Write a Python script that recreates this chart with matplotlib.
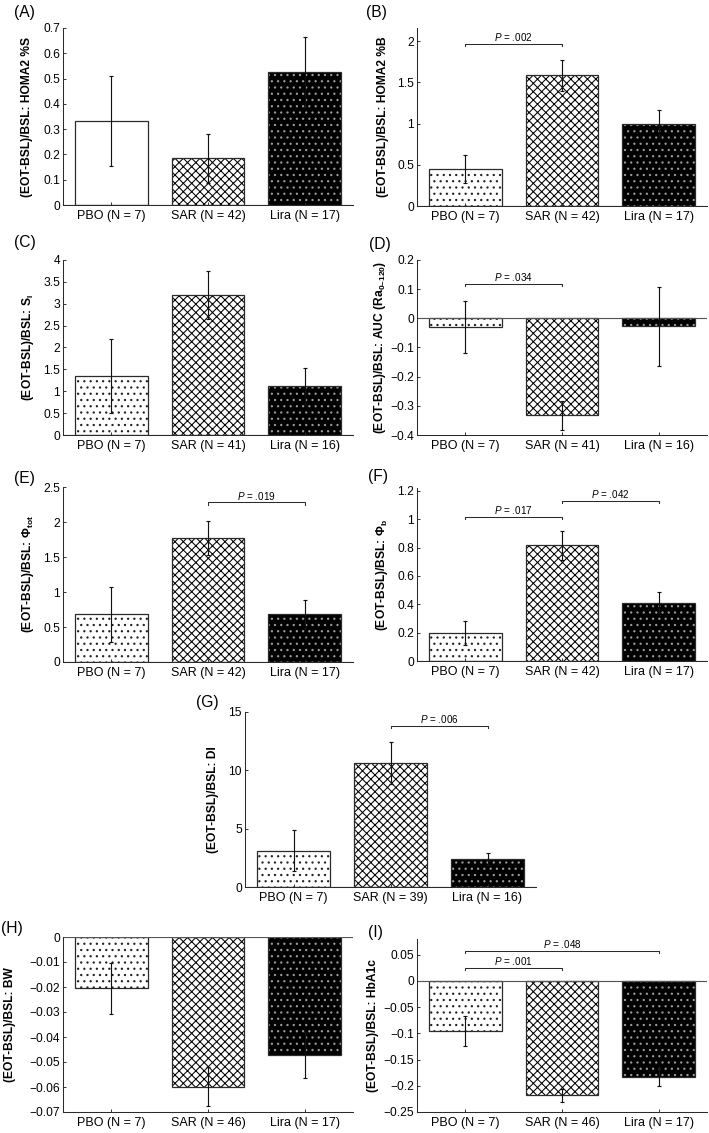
import numpy as np
import matplotlib
matplotlib.use("Agg")
import matplotlib.pyplot as plt

plt.rcParams["font.family"] = ["Liberation Sans", "DejaVu Sans"]
plt.rcParams["mathtext.fontset"] = "custom"
plt.rcParams["mathtext.rm"] = "Liberation Sans"
plt.rcParams["mathtext.it"] = "Liberation Sans:italic"
plt.rcParams["mathtext.bf"] = "Liberation Sans:bold"
plt.rcParams["hatch.linewidth"] = 1.0

DPI = 75
W, H = 709, 1133

GROUPS = ["PBO", "SAR", "Lira"]

# values: mean change and SEM per group
n_A = [7, 42, 17]
mean_A = [0.333, 0.185, 0.527]
err_A = [0.177, 0.097, 0.138]

n_B = [7, 42, 17]
mean_B = [0.45, 1.585, 1.0]
err_B = [0.165, 0.19, 0.16]

n_C = [7, 41, 16]
mean_C = [1.35, 3.2, 1.12]
err_C = [0.85, 0.55, 0.42]

n_D = [7, 41, 16]
mean_D = [-0.03, -0.332, -0.027]
err_D = [0.088, 0.05, 0.135]

n_E = [7, 42, 17]
mean_E = [0.68, 1.77, 0.69]
err_E = [0.39, 0.24, 0.2]

n_F = [7, 42, 17]
mean_F = [0.2, 0.815, 0.41]
err_F = [0.085, 0.1, 0.075]

n_G = [7, 39, 16]
mean_G = [3.1, 10.6, 2.4]
err_G = [1.75, 1.8, 0.55]

n_H = [7, 46, 17]
mean_H = [-0.0205, -0.0598, -0.047]
err_H = [0.0101, 0.0078, 0.0092]

n_I = [7, 46, 17]
mean_I = [-0.096, -0.218, -0.184]
err_I = [0.029, 0.012, 0.017]

# significance brackets: (group i, group j, height, p text)
sig_B = [(0, 1, 1.97, ".002")]
sig_D = [(0, 1, 0.118, ".034")]
sig_E = [(1, 2, 2.28, ".019")]
sig_F = [(0, 1, 1.016, ".017"), (1, 2, 1.13, ".042")]
sig_G = [(1, 2, 13.8, ".006")]
sig_I = [(0, 1, 0.025, ".001"), (0, 2, 0.0565, ".048")]

LINE = "#2b2b2b"


def fmt(v):
  if abs(v) < 1e-9:
    return "0"
  s = "%g" % round(v, 4)
  return s.replace("-", "\u2212")


def draw_panel(rect, letter, letter_xy, means, errs, ns, ylim, yticks, ylabel,
               label_off, sigs=(), plain_pbo=False):
  l, t, r, b = rect
  ax = fig.add_axes([l / W, 1 - b / H, (r - l) / W, (b - t) / H])
  x = np.arange(1, 4)

  bars = ax.bar(x, means, width=0.75, color=["white", "white", "black"],
                linewidth=0, zorder=1)
  styles = [("" if plain_pbo else "..", "#222222"), ("xxx", "black"), ("..", "#9a9a9a")]
  for p, (h, hc) in zip(bars, styles):
    p.set_hatch(h)
    p.set_edgecolor(hc)
    p.set_linewidth(0)
  ax.bar(x, means, width=0.75, fill=False, edgecolor=LINE, linewidth=1.2, zorder=2)

  ax.axhline(0, color="#555555", lw=1.1, zorder=2.5)
  ax.errorbar(x, means, yerr=errs, fmt="none", ecolor="#111111", elinewidth=1.1,
              capsize=2.2, capthick=1.1, zorder=3)

  tick = 0.012 * (ylim[1] - ylim[0])
  for i, j, y, p in sigs:
    ax.plot([i + 1, i + 1, j + 1, j + 1], [y - tick, y, y, y - tick],
            color=LINE, lw=1.0, zorder=3)
    ax.text((i + j) / 2 + 1, y + tick * 0.4, "$\\it{P}$ = " + p, ha="center",
            va="bottom", fontsize=9.5)

  ax.set_xlim(0.5, 3.5)
  ax.set_ylim(*ylim)
  ax.set_xticks(x)
  ax.set_xticklabels(["%s (N = %d)" % (g, n) for g, n in zip(GROUPS, ns)], fontsize=12)
  ax.set_yticks(yticks)
  ax.set_yticklabels([fmt(v) for v in yticks], fontsize=11.5)
  for s in ["top", "right"]:
    ax.spines[s].set_visible(False)
  for s in ["left", "bottom"]:
    ax.spines[s].set_color(LINE)
    ax.spines[s].set_linewidth(1.0)
  ax.tick_params(direction="in", length=3, width=0.9, color=LINE, pad=3)
  ax.tick_params(axis="x", pad=5)

  ax.set_ylabel(ylabel, fontsize=11.5, fontweight="bold", va="center")
  ax.yaxis.set_label_coords(label_off / (r - l), 0.5)

  fig.text(letter_xy[0] / W, 1 - letter_xy[1] / H, letter, fontsize=15,
           ha="left", va="center")
  return ax


fig = plt.figure(figsize=(W / DPI, H / DPI), dpi=DPI)

pre = "(EOT-BSL)/BSL: "

draw_panel((63, 28, 353, 205), "(A)", (14, 12), mean_A, err_A, n_A, (0, 0.7),
           np.arange(0, 0.71, 0.1), pre + "HOMA2 %S", -36, plain_pbo=True)
draw_panel((417, 28, 707, 206), "(B)", (366, 12), mean_B, err_B, n_B, (0, 2.16),
           [0, 0.5, 1, 1.5, 2], pre + "HOMA2 %B", -34, sig_B)
draw_panel((63, 260, 353, 435), "(C)", (14, 242), mean_C, err_C, n_C, (0, 4),
           np.arange(0, 4.01, 0.5), pre + "$\\mathbf{S_I}$", -35)
draw_panel((417, 260, 707, 435), "(D)", (369, 244), mean_D, err_D, n_D, (-0.4, 0.2),
           np.arange(-0.4, 0.21, 0.1), pre + "AUC ($\\mathbf{Ra_{0\u2013120}}$)", -37, sig_D)
draw_panel((63, 487, 353, 662), "(E)", (14, 478), mean_E, err_E, n_E, (0, 2.5),
           np.arange(0, 2.51, 0.5), pre + "$\\mathbf{\\Phi_{tot}}$", -35, sig_E)
draw_panel((417, 488, 707, 661), "(F)", (368, 477), mean_F, err_F, n_F, (0, 1.22),
           np.arange(0, 1.21, 0.2), pre + "$\\mathbf{\\Phi_{b}}$", -35, sig_F)
draw_panel((245, 712, 536, 887), "(G)", (196, 703), mean_G, err_G, n_G, (0, 15),
           [0, 5, 10, 15], pre + "DI", -32, sig_G)
draw_panel((63, 937, 353, 1112), "(H)", (1, 928), mean_H, err_H, n_H, (-0.07, 0),
           np.arange(-0.07, 0.001, 0.01), pre + "BW", -53)
draw_panel((417, 939, 707, 1112), "(I)", (368, 933), mean_I, err_I, n_I, (-0.25, 0.08),
           np.arange(-0.25, 0.051, 0.05), pre + "HbA1c", -44, sig_I)

plt.savefig("out.png", dpi=DPI)
